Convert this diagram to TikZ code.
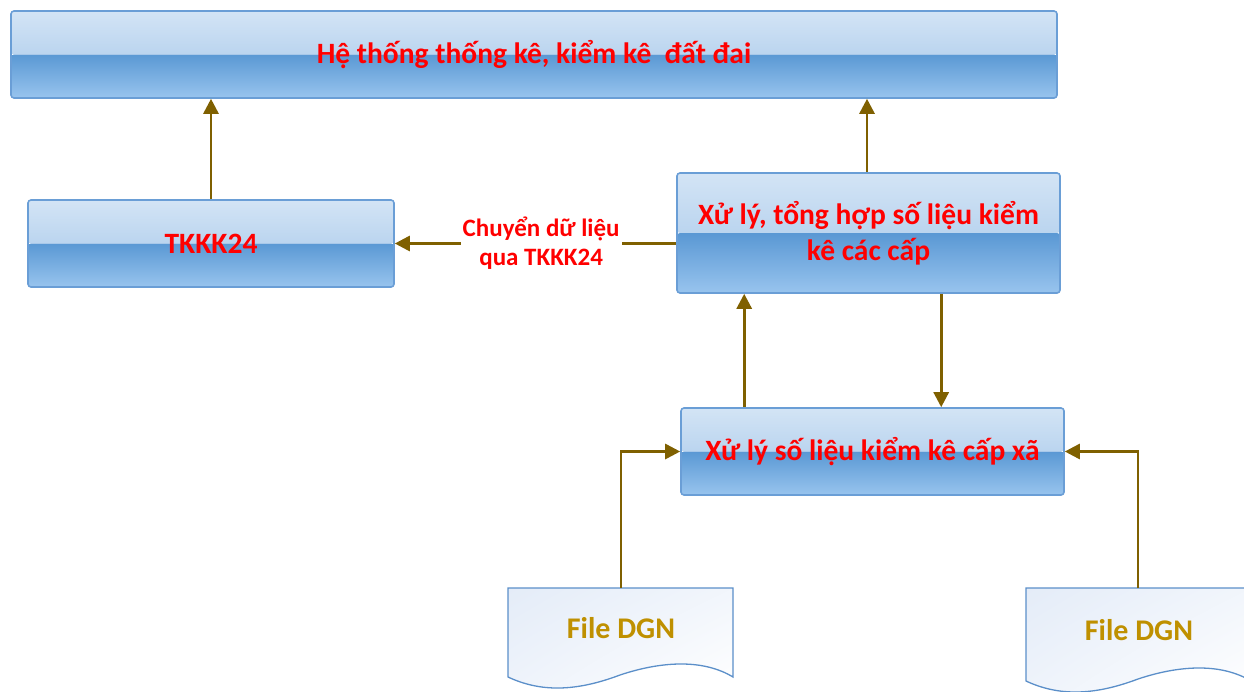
\documentclass[tikz,border=0pt]{standalone}
\usepackage{fontspec}
\setmainfont{Carlito}
\usetikzlibrary{arrows.meta,calc,shadings}
\definecolor{gA}{HTML}{D3E4F5}
\definecolor{gB}{HTML}{A2C5E9}
\definecolor{gC}{HTML}{5A98D4}
\definecolor{gD}{HTML}{98C4EE}
\definecolor{bord}{HTML}{6A9ED6}
\definecolor{arrc}{HTML}{7F6000}
\definecolor{docb}{HTML}{5B8FC9}
\definecolor{doct}{HTML}{BF9000}
\definecolor{docf}{HTML}{E4ECF8}
\tikzset{
  glossbox/.style={rounded corners=3pt, draw=bord, line width=1.6pt,
    text=red, font=\fontsize{29.5}{36}\selectfont\bfseries, align=center, inner sep=0pt,
    path picture={
      \shade[top color=gA, bottom color=gB] (path picture bounding box.north west) rectangle (path picture bounding box.east);
      \shade[top color=gC, bottom color=gD] (path picture bounding box.west) rectangle (path picture bounding box.south east);
    }},
  arr/.style={draw=arrc, line width=2.8pt, -{Triangle[length=15pt,width=15pt]}, arrc},
  lbl/.style={fill=white, text=red, font=\fontsize{25}{29}\selectfont\bfseries, align=center, inner sep=2pt},
  doctext/.style={text=doct, font=\fontsize{30}{34}\selectfont\bfseries},
  docshape/.style={draw=docb, line width=1.3pt, upper left=docf, upper right=docf!50!white, lower left=docf!60!white, lower right=white}
}
\begin{document}
\begin{tikzpicture}[x=1pt,y=-1pt]
\useasboundingbox (0,0) rectangle (1244,691);
\clip (0,0) rectangle (1244,691);
% boxes
\node[glossbox, minimum width=1046pt, minimum height=87pt] (top) at (534,54.5) {Hệ thống thống kê, kiểm kê\ \ đất đai};
\node[glossbox, minimum width=366pt, minimum height=87pt] (tkkk) at (211,243.5) {TKKK24};
\node[glossbox, minimum width=383pt, minimum height=120pt] (tonghop) at (868.5,233) {Xử lý, tổng hợp số liệu kiểm\\kê các cấp};
\node[glossbox, minimum width=383pt, minimum height=87pt] (capxa) at (872.5,451.5) {Xử lý số liệu kiểm kê cấp xã};
% documents
\shade[docshape] (508,588) -- (733,588) -- (733,677) .. controls (705,660) and (665,660) .. (620,675) .. controls (575,692) and (540,692) .. (508,677) -- cycle;
\shade[docshape] (1026,588) -- (1251,588) -- (1251,681) .. controls (1223,664) and (1183,664) .. (1138,679) .. controls (1093,696) and (1058,696) .. (1026,681) -- cycle;
\node[doctext] (dgn1) at (621,628) {File DGN};
\node[doctext] (dgn2) at (1139,630) {File DGN};
\coordinate (dgn1top) at (621,588);
\coordinate (dgn2top) at (1138,588);
% connectors
\draw[arr] (tkkk.north) -- (tkkk.north |- top.south);
\draw[arr] ([xshift=-1.5pt]tonghop.north) -- ([xshift=-1.5pt]tonghop.north |- top.south);
\draw[arr] (tonghop.west |- tkkk.east) -- node[lbl, pos=0.48] (lab) {Chuyển dữ liệu\\qua TKKK24} (tkkk.east);
\draw[arr] ([xshift=64pt]capxa.north west) -- ([xshift=64pt]capxa.north west |- tonghop.south);
\draw[arr] ([xshift=265pt]tonghop.south west) -- ([xshift=265pt]tonghop.south west |- capxa.north);
\draw[arr] (dgn1top) |- (capxa.west);
\draw[arr] (dgn2top) |- (capxa.east);
\end{tikzpicture}
\end{document}
